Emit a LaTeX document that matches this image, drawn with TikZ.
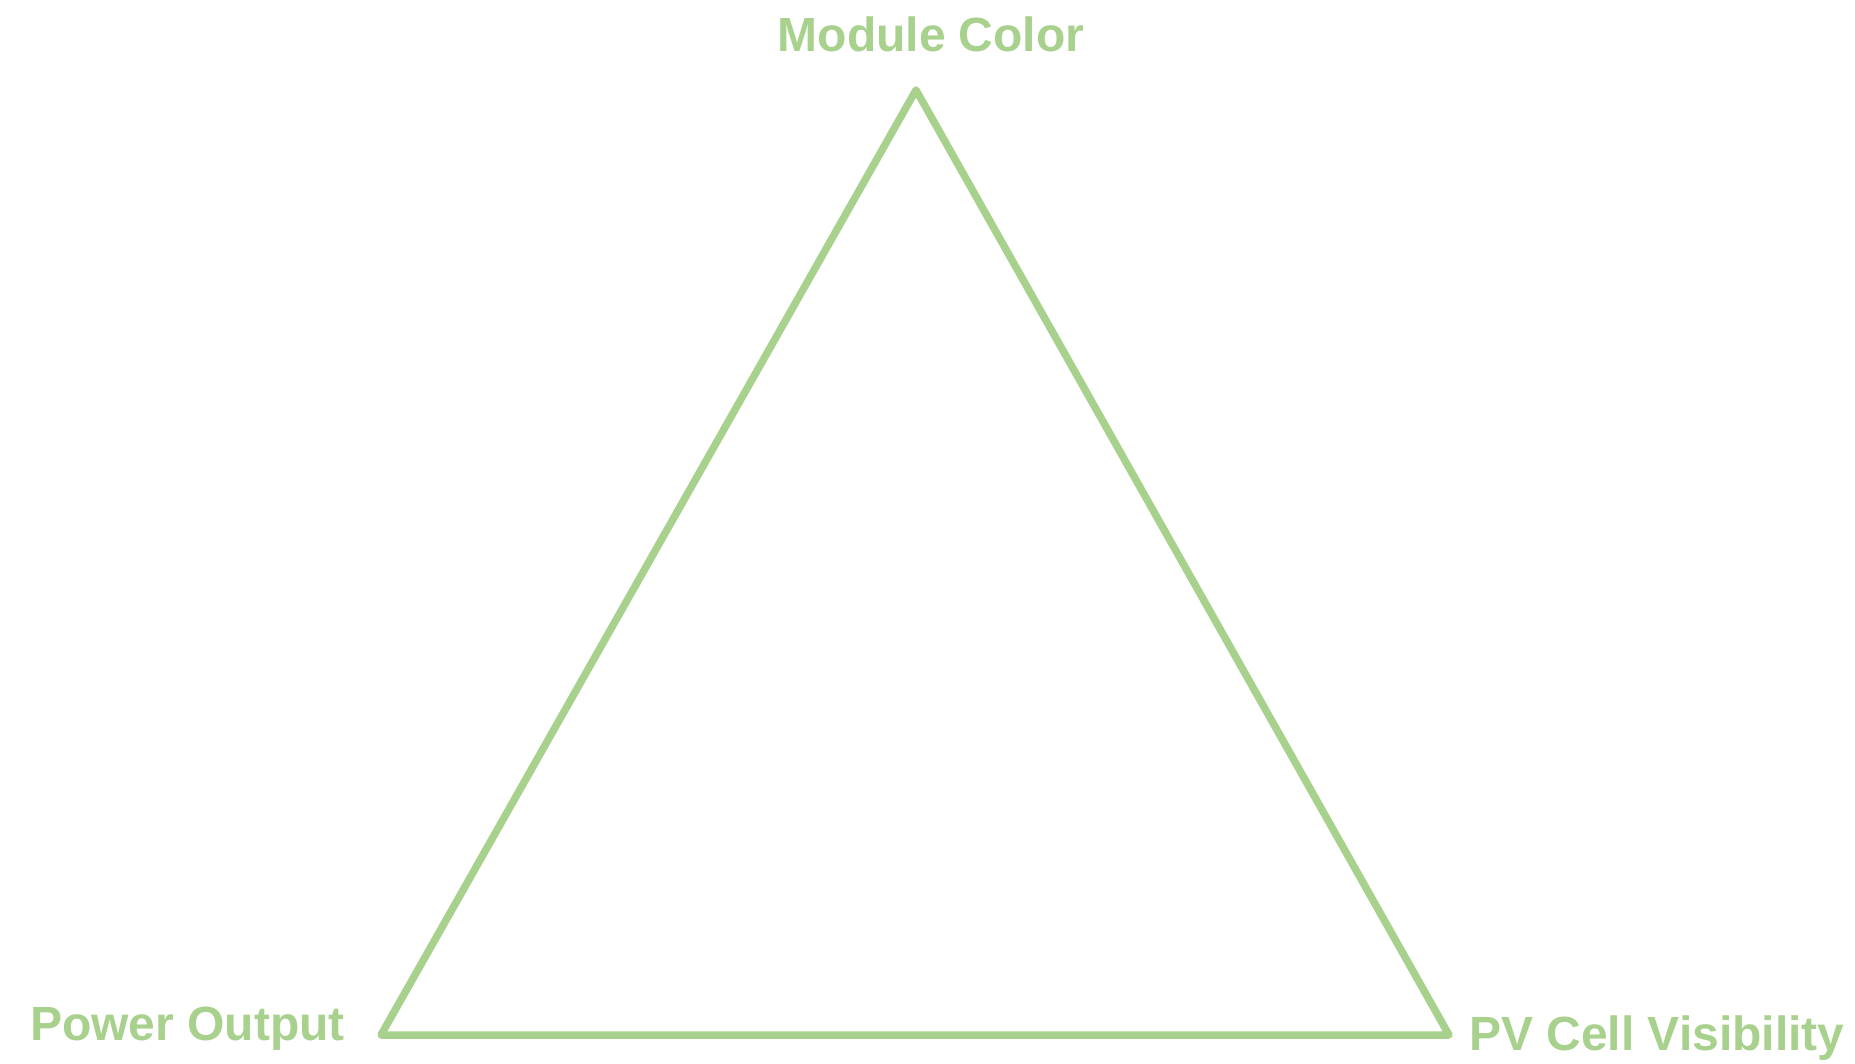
\documentclass[tikz,border=0pt]{standalone}
\usepackage{fontspec}
\setmainfont{Liberation Sans}
\definecolor{lgreen}{HTML}{A9D18E}
\begin{document}
\begin{tikzpicture}[x=1pt,y=-1pt,
  lbl/.style={text=lgreen,font=\fontsize{48}{56}\selectfont\bfseries,inner sep=0pt},
  edge/.style={draw=lgreen,line width=7.5pt,line join=round,line cap=round}]
\useasboundingbox (0,0) rectangle (1855,1064);
\coordinate (top) at (916,90);
\coordinate (bl) at (381,1035);
\coordinate (br) at (1449,1035);
\draw[edge] (top) -- (bl) -- (br) -- cycle;
\node[lbl,anchor=base] (mc) at (931,52) {Module Color};
\node[lbl,anchor=base west] (po) at (30,1040) {Power Output};
\node[lbl,anchor=base west] (pv) at (1469,1050) {PV Cell Visibility};
\end{tikzpicture}
\end{document}
